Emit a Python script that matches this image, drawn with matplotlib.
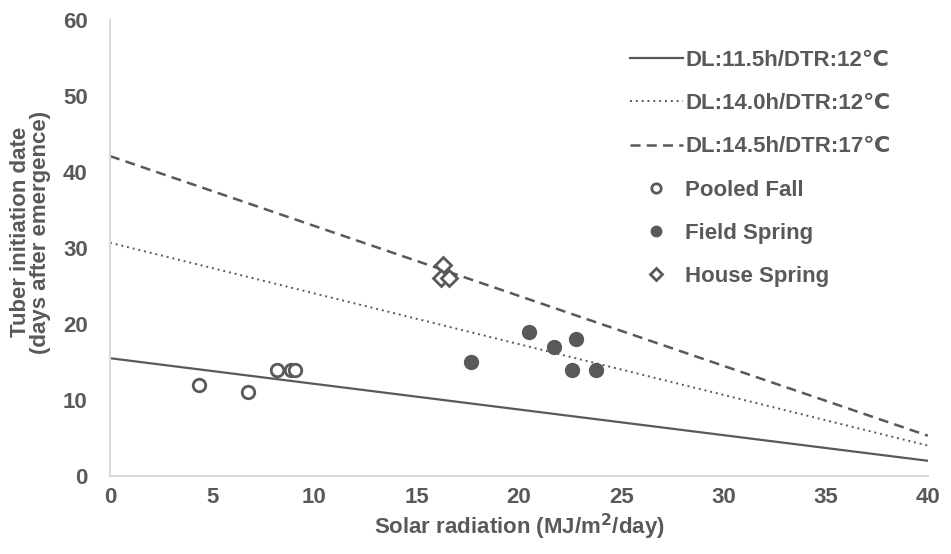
import matplotlib
matplotlib.use("Agg")
import matplotlib.pyplot as plt
import numpy as np

plt.rcParams['font.family'] = ['Liberation Sans', 'DejaVu Sans']

# Regression lines: (intercept at x=0, value at x=40)
line_labels = ["DL:11.5h/DTR:12\u2103", "DL:14.0h/DTR:12\u2103", "DL:14.5h/DTR:17\u2103"]
line_x = [0, 40]
line_solid = [15.5, 2.0]
line_dotted = [30.7, 4.0]
line_dashed = [42.1, 5.3]

pooled_fall_x = [4.35, 6.76, 8.18, 8.83, 9.05]
pooled_fall_y = [12, 11, 14, 14, 14]
field_spring_x = [17.65, 20.5, 21.7, 22.8, 22.6, 23.75]
field_spring_y = [15, 19, 17, 18, 14, 14]
house_spring_x = [16.3, 16.2, 16.6]
house_spring_y = [27.8, 26, 26]

x_ticks = [0, 5, 10, 15, 20, 25, 30, 35, 40]
y_ticks = [0, 10, 20, 30, 40, 50, 60]

C = '#595959'
FS = 16

fig = plt.figure(figsize=(9.51, 5.54), dpi=100)
ax = fig.add_axes([0.1157, 0.1408, 0.860, 0.823])

ax.plot(line_x, line_solid, color=C, lw=1.6, ls='-', label=line_labels[0])
ax.plot(line_x, line_dotted, color=C, lw=1.4, ls=(0, (1, 2)), label=line_labels[1])
ax.plot(line_x, line_dashed, color=C, lw=1.8, ls=(0, (4, 2.5)), label=line_labels[2])

ax.plot(pooled_fall_x, pooled_fall_y, ls='none', marker='o', ms=9, mfc='white', mec=C, mew=2, label='Pooled Fall')
ax.plot(field_spring_x, field_spring_y, ls='none', marker='o', ms=10, mfc=C, mec=C, label='Field Spring')
ax.plot(house_spring_x, house_spring_y, ls='none', marker='D', ms=8, mfc='white', mec=C, mew=2, label='House Spring')

ax.set_xlim(0, 40)
ax.set_ylim(0, 60)
ax.set_xticks(x_ticks)
ax.set_yticks(y_ticks)
ax.tick_params(axis='x', length=0, labelsize=FS, labelcolor=C, pad=8)
ax.tick_params(axis='y', length=0, labelsize=FS, labelcolor=C, pad=16)
for lab in ax.get_xticklabels() + ax.get_yticklabels():
    lab.set_fontweight('bold')
for s in ['top', 'right']:
    ax.spines[s].set_visible(False)
for s in ['left', 'bottom']:
    ax.spines[s].set_color('#d9d9d9')
    ax.spines[s].set_linewidth(1.5)

ax.set_xlabel('Solar radiation (MJ/m$^{\\mathbf{2}}$/day)', fontsize=FS, fontweight='bold', color=C, labelpad=3)
ax.set_ylabel('Tuber initiation date\n(days after emergence)', fontsize=FS, fontweight='bold', color=C, labelpad=4, linespacing=0.95)
ax.yaxis.set_label_coords(-0.072, 0.535)

leg = ax.legend(loc='upper left', bbox_to_anchor=(0.662, 0.91), bbox_transform=fig.transFigure,
                frameon=False, fontsize=FS, handlelength=2.4, handletextpad=0.1,
                labelspacing=1.0, borderaxespad=0, borderpad=0, markerscale=0.75)
for t in leg.get_texts():
    t.set_color(C)
    t.set_fontweight('bold')

fig.savefig('out.png', dpi=100)
